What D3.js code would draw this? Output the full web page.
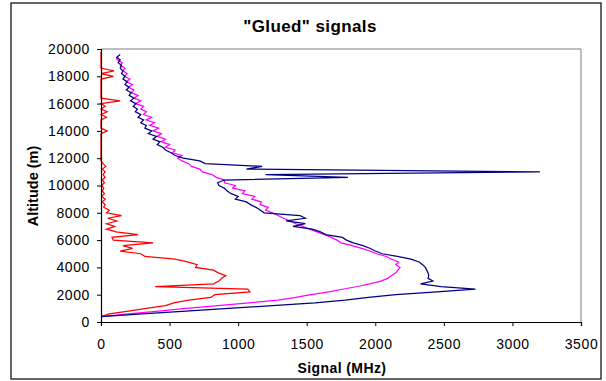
<!DOCTYPE html>
<html>
<head>
<meta charset="utf-8">
<script src="https://cdn.jsdelivr.net/npm/d3@7"></script>
<style>
  body { margin: 0; background: #fff; }
  svg { font-family: "Liberation Sans", Arial, sans-serif; }
</style>
</head>
<body>
<div class="chart"></div>
<script>
// altitude samples (m)
const altitudes = [400, 600, 800, 1000, 1200, 1400, 1600, 1800, 2000, 2200,
  2400, 2600, 2800, 3000, 3200, 3400, 3600, 3800, 4000, 4200,
  4400, 4600, 4800, 5000, 5200, 5400, 5600, 5800, 6000, 6200,
  6400, 6600, 6800, 7000, 7200, 7400, 7600, 7800, 8000, 8200,
  8400, 8600, 8800, 9000, 9200, 9400, 9600, 9800, 10000, 10200,
  10400, 10600, 10800, 11000, 11200, 11400, 11600, 11800, 12000, 12200,
  12400, 12600, 12800, 13000, 13200, 13400, 13600, 13800, 14000, 14200,
  14400, 14600, 14800, 15000, 15200, 15400, 15600, 15800, 16000, 16200,
  16400, 16600, 16800, 17000, 17200, 17400, 17600, 17800, 18000, 18200,
  18400, 18600, 18800, 19000, 19200, 19400, 19600, 19800];

// signal (MHz) per altitude
const navySignal = [0, 300, 620, 930, 1250, 1560, 1780, 1950, 2150, 2450,
  2730, 2480, 2330, 2420, 2385, 2390, 2385, 2375, 2365, 2345,
  2320, 2260, 2160, 2050, 2000, 1960, 1910, 1840, 1790, 1760,
  1640, 1600, 1540, 1400, 1490, 1350, 1490, 1450, 1190, 1160,
  1130, 1090, 1060, 980, 1000, 950, 920, 900, 860, 850,
  900, 1800, 1200, 3200, 1060, 1175, 760, 720, 600, 540,
  510, 470, 450, 410, 430, 380, 405, 345, 370, 320,
  330, 290, 310, 270, 290, 250, 265, 235, 255, 215,
  240, 205, 220, 185, 205, 175, 190, 160, 175, 150,
  160, 140, 150, 125, 140, 115, 140, null];

const magentaSignal = [0, 200, 420, 620, 850, 1080, 1290, 1420, 1530, 1660,
  1760, 1870, 1960, 2040, 2090, 2120, 2150, 2165, 2180, 2150,
  2170, 2120, 2080, 2010, 1960, 1900, 1830, 1750, 1720, 1680,
  1630, 1575, 1520, 1470, 1420, 1380, 1330, 1290, 1250, 1200,
  1220, 1160, 1170, 1100, 1120, 1030, 1050, 960, 980, 900,
  900, 840, 810, 740, 720, 660, 640, 590, 560, 590,
  520, 540, 470, 500, 440, 470, 410, 440, 380, 420,
  355, 390, 330, 370, 310, 330, 290, 310, 250, 290,
  240, 270, 220, 240, 200, 230, 185, 210, 170, 190,
  160, 175, 140, 155, 120, 110, null, null];

const redSignal = [0, 60, 200, 330, 470, 530, 640, 800, 830, 1085,
  1070, 395, 820, 860, 880, 910, 855, 820, 690, 700,
  630, 540, 320, 290, 140, 230, 160, 380, 90, 80,
  270, 110, 40, 100, 40, 115, 50, 150, 40, 60,
  20, 30, 10, 30, 5, 25, 10, 20, 5, 25,
  10, 30, 15, 30, 10, 35, 15, 0, 0, 0,
  0, 0, 0, 0, 0, 0, 0, 0, 45, 0,
  0, 0, 0, 40, 0, 45, 0, 30, 0, 140,
  0, 0, 0, 0, 0, 0, 0, 0, 90, 0,
  95, 0, 0, 0, 0, 0, 0, 0];

const xTicks = [0, 500, 1000, 1500, 2000, 2500, 3000, 3500];
const yTicks = [0, 2000, 4000, 6000, 8000, 10000, 12000, 14000, 16000, 18000, 20000];

const width = 606;
const height = 381;
const plotLeft = 101, plotRight = 581, plotTop = 49, plotBottom = 322;

const svg = d3
  .select('.chart')
  .append('svg')
  .attr('width', width)
  .attr('height', height);

// outer frame
svg.append('rect')
  .attr('x', 11)
  .attr('y', 3)
  .attr('width', 590)
  .attr('height', 376)
  .attr('fill', 'white')
  .attr('stroke', 'black')
  .attr('stroke-width', 1.2);

const x = d3.scaleLinear().domain([0, 3500]).range([plotLeft, plotRight]);
const y = d3.scaleLinear().domain([0, 20000]).range([plotBottom, plotTop]);

// plot area top/right border
svg.append('path')
  .attr('d', `M${plotLeft},${plotTop}H${plotRight}V${plotBottom}`)
  .attr('fill', 'none')
  .attr('stroke', '#808080')
  .attr('stroke-width', 1);

const series = [
  { values: redSignal, color: '#ff0000' },
  { values: magentaSignal, color: '#ff00ff' },
  { values: navySignal, color: '#000080' }
];

const line = d3.line()
  .defined(d => d[0] != null)
  .x(d => x(d[0]))
  .y(d => y(d[1]));

svg.selectAll('.series')
  .data(series)
  .enter()
  .append('path')
  .attr('class', 'series')
  .attr('d', s => line(s.values.map((v, i) => [v, altitudes[i]])))
  .attr('fill', 'none')
  .attr('stroke', s => s.color)
  .attr('stroke-width', 1.25);

// axes
const xAxis = svg.append('g')
  .attr('transform', `translate(0,${plotBottom})`)
  .call(d3.axisBottom(x).tickValues(xTicks).tickSize(4).tickPadding(13).tickFormat(d3.format('d')));

const yAxis = svg.append('g')
  .attr('transform', `translate(${plotLeft},0)`)
  .call(d3.axisLeft(y).tickValues(yTicks).tickSize(4).tickPadding(7).tickFormat(d3.format('d')));

[xAxis, yAxis].forEach(g => {
  g.select('.domain').attr('stroke', 'black').attr('stroke-width', 1.2);
  g.selectAll('.tick line').attr('stroke', 'black');
  g.selectAll('.tick text')
    .attr('font-size', 14)
    .attr('letter-spacing', 0.6)
    .attr('font-family', '"Liberation Sans", Arial, sans-serif')
    .attr('fill', 'black');
});

// titles
svg.append('text')
  .text('"Glued" signals')
  .attr('x', 310)
  .attr('y', 32)
  .attr('text-anchor', 'middle')
  .attr('font-size', 17)
  .attr('letter-spacing', 0.4)
  .attr('font-weight', 'bold');

svg.append('text')
  .text('Signal (MHz)')
  .attr('x', 342)
  .attr('y', 373)
  .attr('text-anchor', 'middle')
  .attr('font-size', 14)
  .attr('letter-spacing', 0.4)
  .attr('font-weight', 'bold');

svg.append('text')
  .text('Altitude (m)')
  .attr('transform', 'translate(38,186) rotate(-90)')
  .attr('text-anchor', 'middle')
  .attr('font-size', 14.5)
  .attr('font-weight', 'bold');
</script>
</body>
</html>
